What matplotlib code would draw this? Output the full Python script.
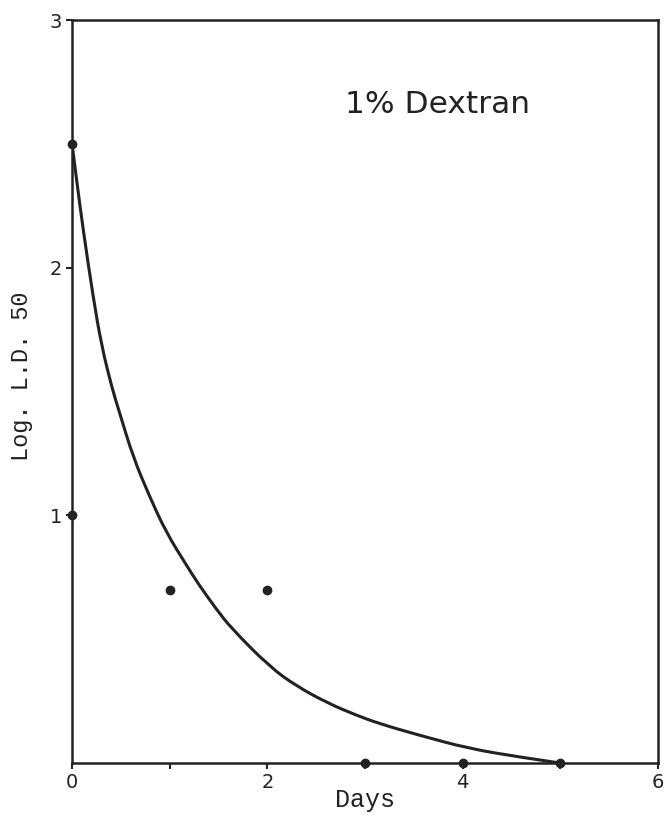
import numpy as np
from matplotlib import pyplot as plt
from matplotlib.path import Path
from matplotlib.patches import PathPatch

# observed points (days, log LD50)
days = [0, 0, 1, 2, 3, 4, 5]
log_ld50 = [2.5, 1.0, 0.7, 0.7, 0.0, 0.0, 0.0]

# fitted curve
curve_days = [0.0, 0.048, 0.115, 0.217, 0.30, 0.405, 0.49, 0.626, 0.796,
              0.966, 1.17, 1.29, 1.48, 1.63, 2.02, 2.3, 2.63, 2.9, 3.14,
              3.55, 4.06, 4.57, 5.0]
curve_log = [2.5, 2.35, 2.15, 1.88, 1.69, 1.52, 1.41, 1.235, 1.074,
             0.93, 0.8, 0.725, 0.62, 0.545, 0.39, 0.31, 0.24, 0.195, 0.16,
             0.113, 0.059, 0.025, 0.0]

x_ticks = [0, 1, 2, 3, 4, 5, 6]
x_labels = ["0", "", "2", "", "4", "", "6"]
y_ticks = [1, 2, 3]
y_labels = ["1", "2", "3"]

ink = "#222222"

fig = plt.figure(figsize=(6.67, 8.17), dpi=100)
ax = fig.add_axes([0.108, 0.066, 0.8785, 0.9095])

# smooth the hand-drawn curve: read points act as quadratic control points
pts = np.column_stack([curve_days, curve_log])
verts = [pts[0]]
codes = [Path.MOVETO]
for i in range(1, len(pts) - 1):
    mid = (pts[i] + pts[i + 1]) / 2 if i < len(pts) - 2 else pts[i + 1]
    verts += [pts[i], mid]
    codes += [Path.CURVE3, Path.CURVE3]
ax.add_patch(PathPatch(Path(verts, codes), fill=False, edgecolor=ink,
                       lw=2.2, capstyle="round", joinstyle="round"))

ax.plot(days, log_ld50, "o", color=ink, ms=6, clip_on=False, zorder=5)

ax.set_xlim(0, 6)
ax.set_ylim(0, 3)
ax.set_xticks(x_ticks)
ax.set_xticklabels(x_labels)
ax.set_yticks(y_ticks)
ax.set_yticklabels(y_labels)
ax.tick_params(colors=ink, labelsize=14, length=4, width=1.5, pad=3)

for s in ax.spines.values():
    s.set_color(ink)
    s.set_linewidth(1.8)

ax.set_xlabel("Days", fontsize=18, color=ink, labelpad=-3,
              family="Liberation Mono")
ax.set_ylabel("Log. L.D. 50", fontsize=17, color=ink,
              family="Liberation Mono")
ax.yaxis.set_label_coords(-0.066, 0.52)

ax.text(3.74, 2.66, "1% Dextran", fontsize=22.5, color=ink,
        ha="center", va="center")

fig.savefig("out.png", dpi=100)
